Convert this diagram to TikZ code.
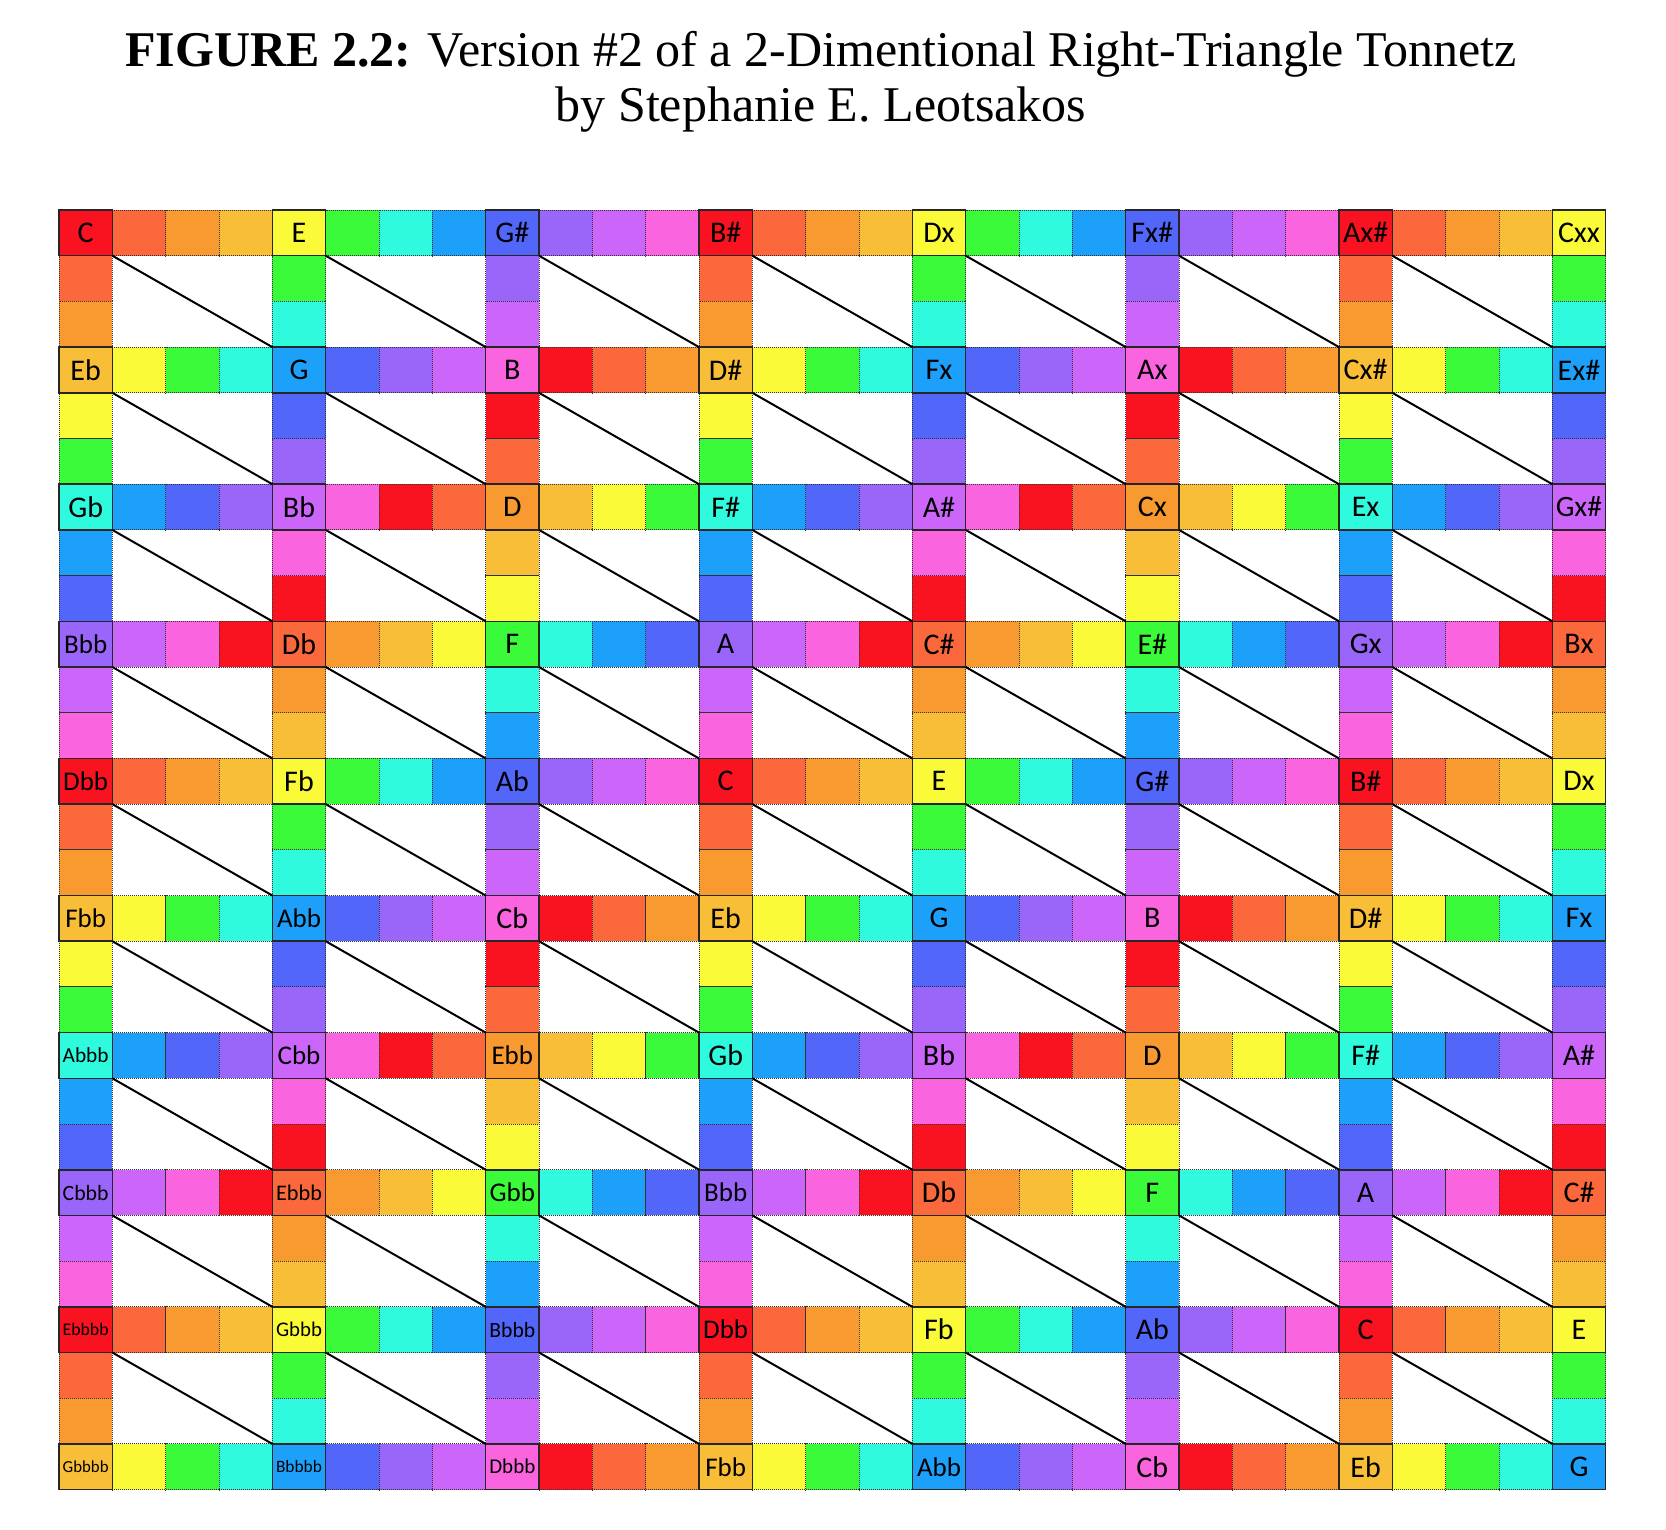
\documentclass[tikz,border=0pt]{standalone}
\usepackage{fontspec}
\usepackage{graphicx}
\setmainfont{Liberation Serif}
\newfontfamily\notefont{Carlito}
% une couleur par classe de hauteur (C = 0)
\definecolor{pc0}{RGB}{249, 18, 32}
\definecolor{pc1}{RGB}{250, 104, 60}
\definecolor{pc2}{RGB}{248, 154, 48}
\definecolor{pc3}{RGB}{248, 190, 56}
\definecolor{pc4}{RGB}{250, 250, 56}
\definecolor{pc5}{RGB}{58, 250, 58}
\definecolor{pc6}{RGB}{48, 250, 222}
\definecolor{pc7}{RGB}{28, 160, 250}
\definecolor{pc8}{RGB}{82, 102, 250}
\definecolor{pc9}{RGB}{154, 102, 250}
\definecolor{pc10}{RGB}{204, 102, 250}
\definecolor{pc11}{RGB}{250, 100, 222}
% doubles bémols plus petits, et rien de plus large que la case
\makeatletter
\newcommand*\fitnote[1]{\edef\notetmp{#1}\expandafter\notetest\expandafter{\notetmp}}
\newcommand*\notetest[1]{\in@{bb}{#1}\ifin@\fontsize{27}{31}\selectfont\fi
    \sbox0{#1}\ifdim\wd0>46pt\resizebox{46pt}{!}{#1}\else#1\fi}
\makeatother

\begin{document}
\begin{tikzpicture}[x=1pt, y=-1pt,
    cell/.style={draw=black!80, dash pattern=on 1pt off 1pt, line width=0.9pt,
        minimum width=53.33pt, minimum height=45.7pt, inner sep=0pt, outer sep=0pt},
    note/.style={draw=black!85, solid, line width=1.6pt,
        minimum width=53.33pt, minimum height=45.7pt, inner sep=0pt, outer sep=0pt,
        font=\notefont\fontsize{30}{34}\selectfont},
    diag/.style={line width=2pt, black}]
    \useasboundingbox (0,0) rectangle (1666,1530);

    % Titre
    \node[anchor=base] (titre) at (821,67) {\fontsize{50}{58}\selectfont\textbf{FIGURE 2.2:} Version \#2 of a 2-Dimentional Right-Triangle Tonnetz};
    \node[anchor=base] (auteur) at (821,122) {\fontsize{50}{58}\selectfont by Stephanie E. Leotsakos};

    % Cases intermédiaires (tierces majeures vers la droite, mineures vers le bas)
    \foreach \i in {0,...,7} {
        \foreach \j in {0,...,9} {
            \pgfmathsetmacro\nx{85.67+213.33*\i}
            \pgfmathsetmacro\ny{232.85+137.1*\j}
            \ifnum\i<7
                \foreach \k in {1,2,3} {
                    \pgfmathtruncatemacro\pc{mod(4*\i+3*\j+\k,12)}
                    \node[cell, fill=pc\pc] (h-\i-\j-\k) at (\nx+53.33*\k, \ny) {};
                }
            \fi
            \ifnum\j<9
                \foreach \k in {1,2} {
                    \pgfmathtruncatemacro\pc{mod(4*\i+3*\j+\k,12)}
                    \node[cell, fill=pc\pc] (v-\i-\j-\k) at (\nx, \ny+45.7*\k) {};
                }
            \fi
        }
    }

    % Notes
    \foreach \row [count=\j from 0] in {
        {C,E,G\#,B\#,Dx,Fx\#,Ax\#,Cxx},
        {Eb,G,B,D\#,Fx,Ax,Cx\#,Ex\#},
        {Gb,Bb,D,F\#,A\#,Cx,Ex,Gx\#},
        {Bbb,Db,F,A,C\#,E\#,Gx,Bx},
        {Dbb,Fb,Ab,C,E,G\#,B\#,Dx},
        {Fbb,Abb,Cb,Eb,G,B,D\#,Fx},
        {Abbb,Cbb,Ebb,Gb,Bb,D,F\#,A\#},
        {Cbbb,Ebbb,Gbb,Bbb,Db,F,A,C\#},
        {Ebbbb,Gbbb,Bbbb,Dbb,Fb,Ab,C,E},
        {Gbbbb,Bbbbb,Dbbb,Fbb,Abb,Cb,Eb,G}} {
        \foreach \lab [count=\i from 0] in \row {
            \pgfmathsetmacro\nx{85.67+213.33*\i}
            \pgfmathsetmacro\ny{232.85+137.1*\j}
            \pgfmathtruncatemacro\pc{mod(4*\i+3*\j,12)}
            \node[note, fill=pc\pc] (n-\i-\j) at (\nx,\ny) {\fitnote{\lab}};
        }
    }

    % Diagonales des triangles rectangles
    \foreach \i in {0,...,6} {
        \foreach \j in {0,...,8} {
            \pgfmathtruncatemacro\ii{\i+1}
            \pgfmathtruncatemacro\jj{\j+1}
            \draw[diag] (n-\i-\j.south east) -- (n-\ii-\jj.north west);
        }
    }
\end{tikzpicture}
\end{document}
